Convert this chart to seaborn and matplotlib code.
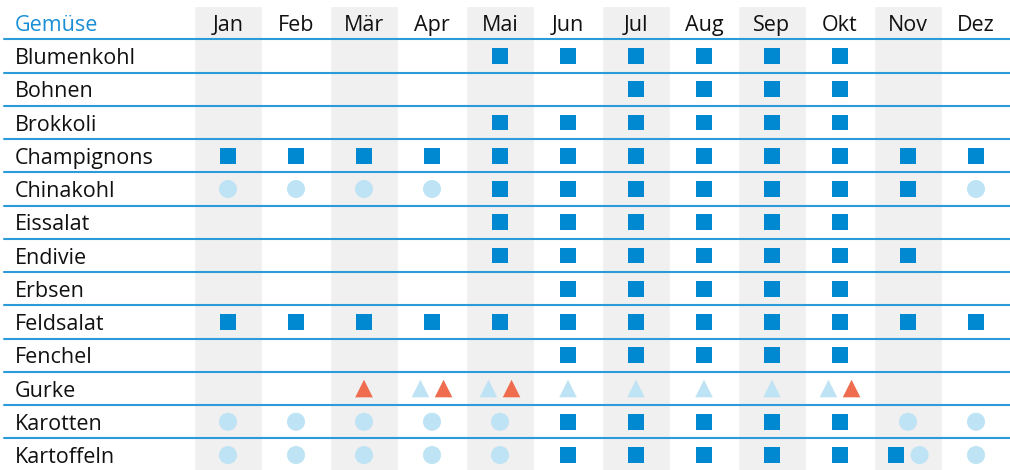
import numpy as np
import pandas as pd
import seaborn as sns
import matplotlib.pyplot as plt
import matplotlib.transforms as mtransforms

months = ["Jan", "Feb", "Mär", "Apr", "Mai", "Jun", "Jul", "Aug", "Sep", "Okt", "Nov", "Dez"]
vegetables = ["Blumenkohl", "Bohnen", "Brokkoli", "Champignons", "Chinakohl", "Eissalat",
              "Endivie", "Erbsen", "Feldsalat", "Fenchel", "Gurke", "Karotten", "Kartoffeln"]

# month numbers (1 = Jan) per vegetable and kind of availability
freiland = {
    "Blumenkohl": [5, 6, 7, 8, 9, 10],
    "Bohnen": [7, 8, 9, 10],
    "Brokkoli": [5, 6, 7, 8, 9, 10],
    "Champignons": [1, 2, 3, 4, 5, 6, 7, 8, 9, 10, 11, 12],
    "Chinakohl": [5, 6, 7, 8, 9, 10, 11],
    "Eissalat": [5, 6, 7, 8, 9, 10],
    "Endivie": [5, 6, 7, 8, 9, 10, 11],
    "Erbsen": [6, 7, 8, 9, 10],
    "Feldsalat": [1, 2, 3, 4, 5, 6, 7, 8, 9, 10, 11, 12],
    "Fenchel": [6, 7, 8, 9, 10],
    "Karotten": [6, 7, 8, 9, 10],
    "Kartoffeln": [6, 7, 8, 9, 10, 11],
}
gewaechshaus = {
    "Gurke": [4, 5, 6, 7, 8, 9, 10],
}
geschuetzt = {
    "Gurke": [3, 4, 5, 10],
}
lager = {
    "Chinakohl": [1, 2, 3, 4, 12],
    "Karotten": [1, 2, 3, 4, 5, 11, 12],
    "Kartoffeln": [1, 2, 3, 4, 5, 11, 12],
}

kinds = [("Freiland", freiland), ("Gewächshaus", gewaechshaus),
         ("Geschützt", geschuetzt), ("Lager", lager)]

rows = []
for j, veg in enumerate(vegetables):
    for m in range(1, 13):
        present = [name for name, d in kinds if m in d.get(veg, [])]
        n = len(present)
        for k, name in enumerate(present):
            rows.append({"x": m - 1 + (k - (n - 1) / 2) * 0.34, "y": j, "kind": name})
df = pd.DataFrame(rows)

sns.set_style("white")
plt.rcParams["font.family"] = ["Open Sans", "DejaVu Sans"]

blue = "#0088D1"
line_blue = "#2D9BD9"
fig = plt.figure(figsize=(10.1, 4.7), dpi=100)
ax = fig.add_axes([0, 0, 1, 1])
ax.set_xlim(-228 / 68, 11.5)
ax.set_ylim(12.45, -1.684)
ax.axis("off")

# shaded month columns
ax.bar(range(0, 12, 2), 14, bottom=-1.5, width=1, color="#F0F0F0", zorder=0)

for j in range(len(vegetables)):
    ax.axhline(j - 0.5, xmin=4 / 1010, xmax=1, color=line_blue, lw=1.5, zorder=1)

sns.scatterplot(
    data=df, x="x", y="y", hue="kind", style="kind", size="kind",
    palette={"Freiland": blue, "Gewächshaus": "#BEE3F5", "Geschützt": "#EF6C4F", "Lager": "#BEE3F5"},
    markers={"Freiland": "s", "Gewächshaus": "^", "Geschützt": "^", "Lager": "o"},
    sizes={"Freiland": 132, "Gewächshaus": 160, "Geschützt": 160, "Lager": 169},
    linewidth=0, legend=False, ax=ax, zorder=3,
)
ax.set_xlim(-228 / 68, 11.5)
ax.set_ylim(12.45, -1.684)

trans = mtransforms.blended_transform_factory(ax.transAxes, ax.transData)
fs = 15.5
ax.text(15 / 1010, -1, "Gemüse", transform=trans, color="#1A8FD6", fontsize=fs,
        va="center_baseline", ha="left")
for j, veg in enumerate(vegetables):
    ax.text(15 / 1010, j, veg, transform=trans, color="#111111", fontsize=fs,
            va="center_baseline", ha="left")
for i, mon in enumerate(months):
    ax.text(i, -1, mon, color="#111111", fontsize=fs, va="center_baseline", ha="center")

fig.savefig("out.png", dpi=100)
